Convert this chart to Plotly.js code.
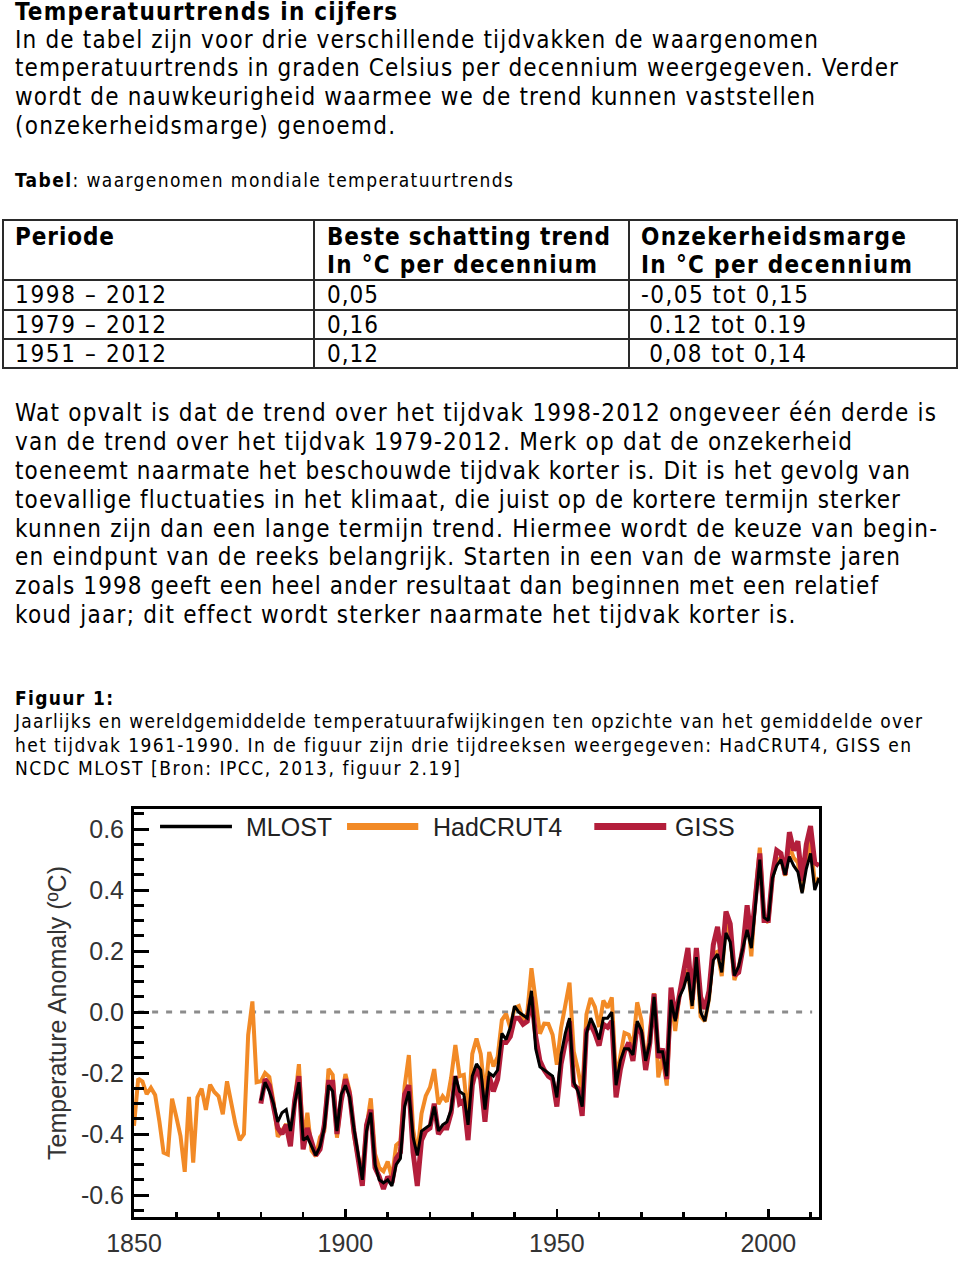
<!DOCTYPE html>
<html><head><meta charset="utf-8">
<script src="https://cdn.plot.ly/plotly-3.0.1.min.js"></script>
<style>
html,body{margin:0;padding:0;background:#fff;}
body{width:960px;height:1280px;position:relative;overflow:hidden;font-family:"Liberation Sans Narrow","Arial Narrow","DejaVu Sans Condensed","Liberation Sans",Arial,sans-serif;color:#000;}
.t{position:absolute;white-space:nowrap;}
.t span{display:inline-block;}
.ln{position:absolute;background:#2a2a2a;}
#chart{position:absolute;left:0;top:790px;width:860px;height:490px;}
</style></head>
<body>
<div id="chart"></div>
<script>
// ---------- data ----------
const tablePeriods = ["1998 – 2012", "1979 – 2012", "1951 – 2012"];
const tableTrends = ["0,05", "0,16", "0,12"];
const tableMargins = ["-0,05 tot 0,15", " 0.12 tot 0.19", " 0,08 tot 0,14"];
const tableHeaders = [["Periode", ""], ["Beste schatting trend", "In °C per decennium"], ["Onzekerheidsmarge", "In °C per decennium"]];

const seriesNames = ["MLOST", "HadCRUT4", "GISS"];
const hadStartYear = 1850;
const hadcrut4 = [
-0.373,-0.218,-0.228,-0.269,-0.248,-0.272,-0.358,-0.461,-0.467,-0.284,
-0.343,-0.407,-0.524,-0.278,-0.494,-0.279,-0.251,-0.321,-0.238,-0.262,
-0.276,-0.335,-0.227,-0.304,-0.368,-0.420,-0.400,-0.075,0.035,-0.230,
-0.227,-0.200,-0.213,-0.296,-0.409,-0.389,-0.367,-0.418,-0.307,-0.171,
-0.416,-0.330,-0.455,-0.473,-0.410,-0.390,-0.186,-0.206,-0.412,-0.289,
-0.203,-0.259,-0.402,-0.479,-0.520,-0.377,-0.283,-0.465,-0.511,-0.522,
-0.490,-0.544,-0.437,-0.424,-0.244,-0.141,-0.383,-0.468,-0.333,-0.275,
-0.247,-0.187,-0.302,-0.276,-0.294,-0.215,-0.108,-0.210,-0.206,-0.350,
-0.137,-0.087,-0.137,-0.273,-0.131,-0.178,-0.147,-0.026,-0.006,-0.052,
0.014,0.020,-0.027,-0.004,0.144,0.025,-0.071,-0.038,-0.039,-0.074,
-0.173,-0.052,0.028,0.097,-0.129,-0.190,-0.267,-0.007,0.046,0.017,
-0.049,0.038,0.014,0.048,-0.223,-0.140,-0.068,-0.074,-0.113,0.032,
-0.027,-0.186,-0.065,0.062,-0.214,-0.149,-0.241,0.047,-0.062,0.057,
0.092,0.140,0.011,0.194,-0.014,-0.030,0.045,0.192,0.198,0.118,
0.296,0.254,0.105,0.148,0.208,0.325,0.183,0.390,0.539,0.306,
0.294,0.441,0.496,0.505,0.447,0.545,0.506,0.491,0.395,0.506,
0.560,0.425,0.440];
const mlostStartYear = 1880;
const mlost = [
-0.29,-0.23,-0.26,-0.30,-0.36,-0.33,-0.32,-0.39,-0.30,-0.23,
-0.42,-0.41,-0.44,-0.47,-0.44,-0.38,-0.24,-0.26,-0.39,-0.27,
-0.24,-0.28,-0.38,-0.46,-0.55,-0.39,-0.33,-0.50,-0.55,-0.56,
-0.55,-0.57,-0.50,-0.48,-0.31,-0.26,-0.41,-0.47,-0.39,-0.38,
-0.37,-0.31,-0.39,-0.37,-0.36,-0.32,-0.21,-0.26,-0.27,-0.37,
-0.21,-0.17,-0.19,-0.32,-0.20,-0.21,-0.19,-0.07,-0.09,-0.05,
0.02,0.00,-0.01,-0.02,0.07,-0.12,-0.18,-0.19,-0.20,-0.21,
-0.28,-0.14,-0.07,-0.02,-0.23,-0.26,-0.31,-0.07,-0.02,-0.05,
-0.09,-0.02,-0.02,0.00,-0.24,-0.16,-0.12,-0.12,-0.14,-0.03,
-0.06,-0.16,-0.10,0.05,-0.13,-0.13,-0.21,0.04,-0.03,0.05,
0.08,0.13,0.02,0.18,0.00,-0.03,0.04,0.17,0.19,0.13,
0.26,0.23,0.12,0.15,0.21,0.27,0.21,0.36,0.50,0.31,
0.30,0.44,0.48,0.50,0.45,0.51,0.48,0.46,0.39,0.47,
0.52,0.40,0.44];
const gissStartYear = 1880;
const giss = [
-0.30,-0.22,-0.24,-0.31,-0.38,-0.40,-0.37,-0.44,-0.29,-0.21,
-0.45,-0.38,-0.42,-0.47,-0.45,-0.37,-0.23,-0.23,-0.40,-0.29,
-0.22,-0.27,-0.39,-0.47,-0.57,-0.37,-0.32,-0.51,-0.54,-0.58,
-0.54,-0.56,-0.48,-0.46,-0.27,-0.24,-0.46,-0.57,-0.42,-0.39,
-0.38,-0.30,-0.40,-0.38,-0.38,-0.33,-0.21,-0.30,-0.29,-0.42,
-0.24,-0.18,-0.22,-0.36,-0.21,-0.26,-0.22,-0.10,-0.10,-0.08,
-0.02,-0.02,-0.04,-0.03,0.05,-0.08,-0.16,-0.19,-0.21,-0.22,
-0.31,-0.17,-0.09,-0.03,-0.24,-0.25,-0.34,-0.06,-0.04,-0.07,
-0.11,-0.04,-0.05,-0.03,-0.28,-0.19,-0.13,-0.10,-0.16,-0.04,
-0.07,-0.19,-0.10,0.06,-0.15,-0.12,-0.22,0.08,-0.02,0.06,
0.15,0.21,0.04,0.21,0.05,0.01,0.07,0.22,0.28,0.17,
0.33,0.29,0.12,0.13,0.21,0.35,0.24,0.37,0.52,0.30,
0.30,0.45,0.53,0.52,0.45,0.59,0.53,0.56,0.43,0.55,
0.61,0.49,0.48];
const xTickVals = [1850, 1900, 1950, 2000];
const xTickText = ["1850", "1900", "1950", "2000"];
const yTickVals = [-0.6, -0.4, -0.2, 0.0, 0.2, 0.4, 0.6];
const yTickText = ["-0.6", "-0.4", "-0.2", "0.0", "0.2", "0.4", "0.6"];

// ---------- text ----------
// [html, left, right, centerY, fontSize, bold]
const textLines = [
 ["Temperatuurtrends in cijfers", 15, 397, 12, 24, true],
 ["In de tabel zijn voor drie verschillende tijdvakken de waargenomen", 15, 818, 40, 24, false],
 ["temperatuurtrends in graden Celsius per decennium weergegeven. Verder", 15, 898, 68, 24, false],
 ["wordt de nauwkeurigheid waarmee we de trend kunnen vaststellen", 15, 815, 97, 24, false],
 ["(onzekerheidsmarge) genoemd.", 15, 395, 126, 24, false],
 ["<b>Tabel</b>: waargenomen mondiale temperatuurtrends", 15, 513, 180, 19, false],
 ["Wat opvalt is dat de trend over het tijdvak 1998-2012 ongeveer één derde is", 15, 936, 413, 24, false],
 ["van de trend over het tijdvak 1979-2012. Merk op dat de onzekerheid", 15, 852, 442, 24, false],
 ["toeneemt naarmate het beschouwde tijdvak korter is. Dit is het gevolg van", 15, 910, 471, 24, false],
 ["toevallige fluctuaties in het klimaat, die juist op de kortere termijn sterker", 15, 900, 500, 24, false],
 ["kunnen zijn dan een lange termijn trend. Hiermee wordt de keuze van begin-", 15, 937, 529, 24, false],
 ["en eindpunt van de reeks belangrijk. Starten in een van de warmste jaren", 15, 900, 557, 24, false],
 ["zoals 1998 geeft een heel ander resultaat dan beginnen met een relatief", 15, 878, 586, 24, false],
 ["koud jaar; dit effect wordt sterker naarmate het tijdvak korter is.", 15, 795, 615, 24, false],
 ["Figuur 1:", 15, 113, 698, 19, true],
 ["Jaarlijks en wereldgemiddelde temperatuurafwijkingen ten opzichte van het gemiddelde over", 15, 922, 721, 19, false],
 ["het tijdvak 1961-1990. In de figuur zijn drie tijdreeksen weergegeven: HadCRUT4, GISS en", 15, 911, 745, 19, false],
 ["NCDC MLOST [Bron: IPCC, 2013, figuur 2.19]", 15, 460, 768, 19, false]
];

// table geometry
const colX = [15, 327, 641];
const colRight = [[114, 0], [610, 597], [906, 912]];
const headerY = [237, 265];
const rowY = [295, 325, 354];
const rowRight = [[166, 166, 166], [378, 378, 378], [808, 806, 806]];
textLines.push([tableHeaders[0][0], colX[0], colRight[0][0], headerY[0], 24, true]);
for (let c = 1; c < 3; c++) {
  textLines.push([tableHeaders[c][0], colX[c], colRight[c][0], headerY[0], 24, true]);
  textLines.push([tableHeaders[c][1], colX[c], colRight[c][1], headerY[1], 24, true]);
}
for (let r = 0; r < 3; r++) {
  textLines.push([tablePeriods[r], colX[0], rowRight[0][r], rowY[r], 24, false]);
  textLines.push([tableTrends[r], colX[1], rowRight[1][r], rowY[r], 24, false]);
  textLines.push([tableMargins[r].replace(/^ /, "\u00a0"), colX[2], rowRight[2][r], rowY[r], 24, false]);
}

const spans = [];
textLines.forEach(function (L) {
  const d = document.createElement("div");
  d.className = "t";
  d.style.left = L[1] + "px";
  d.style.top = (L[3] - L[4] * 0.5) + "px";
  d.style.fontSize = L[4] + "px";
  d.style.lineHeight = L[4] + "px";
  if (L[5]) d.style.fontWeight = "bold";
  const s = document.createElement("span");
  s.innerHTML = L[0];
  d.appendChild(s);
  document.body.appendChild(d);
  spans.push([s, L[2] - L[1]]);
});
function fitText() {
  spans.forEach(function (p) {
    const s = p[0];
    s.style.letterSpacing = "0px";
    const w = s.getBoundingClientRect().width;
    const n = s.textContent.length;
    if (n > 1) s.style.letterSpacing = ((p[1] - w) / (n - 1)) + "px";
  });
}
fitText();
if (document.fonts && document.fonts.ready) document.fonts.ready.then(fitText);

// table lines
const hLines = [220, 280, 310, 339, 368];
const vLines = [3, 314, 629, 957];
hLines.forEach(function (y) {
  const d = document.createElement("div"); d.className = "ln";
  d.style.left = "3px"; d.style.width = "955px"; d.style.top = (y - 1) + "px"; d.style.height = "1.5px";
  document.body.appendChild(d);
});
vLines.forEach(function (x) {
  const d = document.createElement("div"); d.className = "ln";
  d.style.left = (x - 1) + "px"; d.style.width = "1.5px"; d.style.top = "219px"; d.style.height = "150px";
  document.body.appendChild(d);
});

// ---------- chart ----------
function yearsFrom(start, n) { const a = []; for (let i = 0; i < n; i++) a.push(start + i); return a; }
const colors = {MLOST: "#000000", HadCRUT4: "#F28A26", GISS: "#B31E3B"};
const traces = [
  {x: yearsFrom(hadStartYear, hadcrut4.length), y: hadcrut4, name: seriesNames[1], type: "scatter", mode: "lines",
   line: {color: colors.HadCRUT4, width: 4}},
  {x: yearsFrom(gissStartYear, giss.length), y: giss, name: seriesNames[2], type: "scatter", mode: "lines",
   line: {color: colors.GISS, width: 5}},
  {x: yearsFrom(mlostStartYear, mlost.length), y: mlost, name: seriesNames[0], type: "scatter", mode: "lines",
   line: {color: colors.MLOST, width: 3}}
];

const legY = 0.957;
const legendItems = [
  {name: seriesNames[0], x0: 0.038, x1: 0.143, tx: 0.160, color: colors.MLOST, w: 3.5},
  {name: seriesNames[1], x0: 0.311, x1: 0.415, tx: 0.433, color: colors.HadCRUT4, w: 7},
  {name: seriesNames[2], x0: 0.672, x1: 0.777, tx: 0.787, color: colors.GISS, w: 7}
];
const shapes = [{type: "line", xref: "paper", yref: "y", x0: 0.006, x1: 0.99, y0: 0, y1: 0,
  line: {color: "#8c8c8c", width: 3, dash: "6px,8px"}, layer: "below"}];
const annotations = [];
legendItems.forEach(function (it) {
  shapes.push({type: "line", xref: "paper", yref: "paper", x0: it.x0, x1: it.x1, y0: legY, y1: legY,
    line: {color: it.color, width: it.w}});
  annotations.push({xref: "paper", yref: "paper", x: it.tx, y: legY, xanchor: "left", yanchor: "middle",
    text: it.name, showarrow: false, font: {size: 25, color: "#222"}});
});

const layout = {
  width: 860, height: 490,
  margin: {l: 134, r: 41, t: 19, b: 63},
  paper_bgcolor: "#ffffff", plot_bgcolor: "#ffffff",
  showlegend: false,
  font: {family: '"Liberation Sans", Arial, sans-serif', size: 25, color: "#333"},
  xaxis: {range: [1850, 2012], tickmode: "array", tickvals: xTickVals, ticktext: xTickText,
    ticks: "inside", ticklen: 8, tickwidth: 2.5, tickcolor: "#000",
    showline: true, linewidth: 3, linecolor: "#000", mirror: true,
    showgrid: false, zeroline: false, ticklabelstandoff: 2,
    minor: {dtick: 10, tick0: 1850, ticks: "inside", ticklen: 5, tickwidth: 2.5, tickcolor: "#000", showgrid: false}},
  yaxis: {range: [-0.672, 0.666], tickmode: "array", tickvals: yTickVals, ticktext: yTickText,
    ticks: "inside", ticklen: 15, tickwidth: 3, tickcolor: "#000",
    showline: true, linewidth: 3, linecolor: "#000", mirror: true,
    showgrid: false, zeroline: false, ticklabelstandoff: 2,
    minor: {dtick: 0.05, tick0: 0, ticks: "inside", ticklen: 10, tickwidth: 3, tickcolor: "#000", showgrid: false},
    title: {text: "Temperature Anomaly (ºC)", font: {size: 25, color: "#333"}, standoff: 8}},
  shapes: shapes,
  annotations: annotations
};
Plotly.newPlot("chart", traces, layout, {staticPlot: true, displayModeBar: false});
</script>
</body></html>
